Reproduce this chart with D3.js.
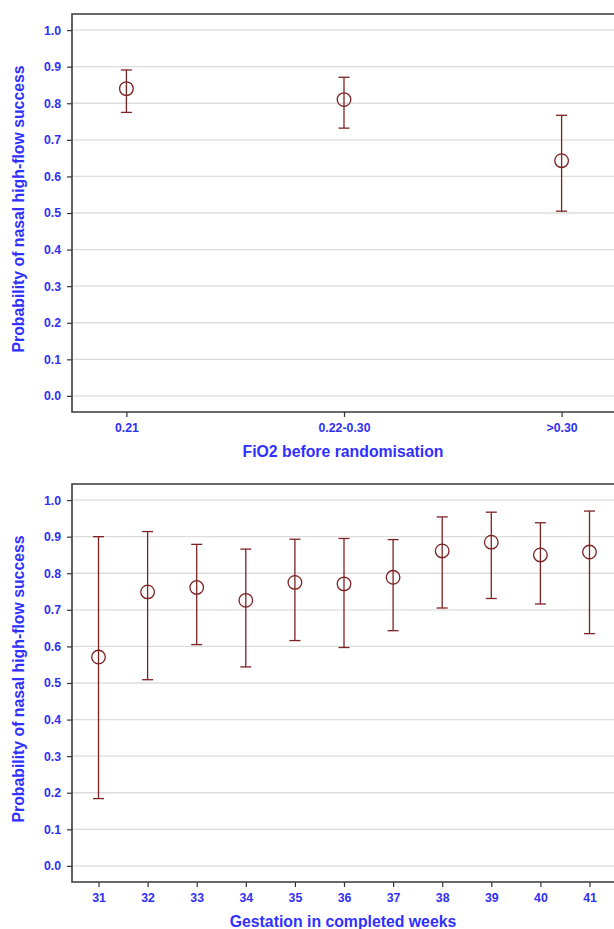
<!DOCTYPE html>
<html>
<head>
<meta charset="utf-8">
<script src="https://cdn.jsdelivr.net/npm/d3@7"></script>
<style>
  body { margin: 0; background: #fff; }
  svg { display: block; font-family: "Liberation Sans", Arial, sans-serif; }
  .tickText { fill: #2f2ff5; font-weight: bold; font-size: 12.3px; }
  .axisTitle { fill: #3030ff; font-weight: bold; font-size: 15.8px; }
</style>
</head>
<body>
<div id="chart"></div>
<script>
// Data

// panel 1: FiO2 before randomisation
var fioCats = ["0.21", "0.22-0.30", ">0.30"];
var fioProb = [0.840, 0.810, 0.643];
var fioLow = [0.775, 0.732, 0.505];
var fioHigh = [0.891, 0.871, 0.767];

// panel 2: gestation in completed weeks
var weekCats = ["31", "32", "33", "34", "35", "36", "37", "38", "39", "40", "41"];
var weekProb = [0.571, 0.749, 0.761, 0.726, 0.775, 0.771, 0.789, 0.861, 0.885, 0.850, 0.858];
var weekLow = [0.184, 0.509, 0.605, 0.544, 0.616, 0.597, 0.643, 0.705, 0.731, 0.716, 0.635];
var weekHigh = [0.900, 0.914, 0.879, 0.866, 0.893, 0.895, 0.892, 0.954, 0.967, 0.938, 0.970];

var yTicks = [0, 0.1, 0.2, 0.3, 0.4, 0.5, 0.6, 0.7, 0.8, 0.9, 1.0];
var yTitle = "Probability  of nasal high-flow success";

var svgWidth = 614;
var svgHeight = 929;

var svg = d3.select("#chart")
  .append("svg")
  .attr("width", svgWidth)
  .attr("height", svgHeight);

var barColor = "#7d2222";

function drawPanel(top, cats, prob, low, high, xPad, xTitle) {
  var left = 72, right = 616, height = 398;

  var rows = cats.map(function(c, i) {
    return { cat: c, p: prob[i], lo: low[i], hi: high[i] };
  });

  var x = d3.scalePoint()
    .domain(cats)
    .range([left, right])
    .padding(xPad);

  var y = d3.scaleLinear()
    .domain([-0.044, 1.044])
    .range([top + height, top]);

  var g = svg.append("g");

  // gridlines
  g.selectAll(".grid")
    .data(yTicks)
    .enter()
    .append("line")
    .attr("x1", left)
    .attr("x2", right)
    .attr("y1", d => y(d))
    .attr("y2", d => y(d))
    .attr("stroke", "#dcdcdc")
    .attr("stroke-width", 1.3);

  // y axis
  var leftAxis = d3.axisLeft(y)
    .tickValues(yTicks)
    .tickFormat(d3.format(".1f"))
    .tickSize(5)
    .tickPadding(6);

  var yAxisG = g.append("g")
    .attr("transform", `translate(${left}, 0)`)
    .call(leftAxis);
  yAxisG.select(".domain").remove();
  yAxisG.selectAll("line").attr("stroke", "#333").attr("stroke-width", 1.2);
  yAxisG.selectAll("text").attr("class", "tickText").attr("font-size", null).attr("font-family", null);

  // x axis
  var bottomAxis = d3.axisBottom(x)
    .tickSize(5)
    .tickPadding(6);

  var xAxisG = g.append("g")
    .attr("transform", `translate(0, ${top + height})`)
    .call(bottomAxis);
  xAxisG.select(".domain").remove();
  xAxisG.selectAll("line").attr("stroke", "#333").attr("stroke-width", 1.2);
  xAxisG.selectAll("text").attr("class", "tickText").attr("font-size", null).attr("font-family", null);

  // frame (top, left, bottom)
  g.append("path")
    .attr("d", `M${right},${top}H${left}V${top + height}H${right}`)
    .attr("fill", "none")
    .attr("stroke", "#3a3a3a")
    .attr("stroke-width", 1.6);

  // error bars
  var bars = g.selectAll(".bar").data(rows).enter().append("g");

  bars.append("line")
    .attr("x1", d => x(d.cat))
    .attr("x2", d => x(d.cat))
    .attr("y1", d => y(d.lo))
    .attr("y2", d => y(d.hi))
    .attr("stroke", barColor)
    .attr("stroke-width", 1.3);

  bars.append("line")
    .attr("x1", d => x(d.cat) - 5.5)
    .attr("x2", d => x(d.cat) + 5.5)
    .attr("y1", d => y(d.hi))
    .attr("y2", d => y(d.hi))
    .attr("stroke", barColor)
    .attr("stroke-width", 1.3);

  bars.append("line")
    .attr("x1", d => x(d.cat) - 5.5)
    .attr("x2", d => x(d.cat) + 5.5)
    .attr("y1", d => y(d.lo))
    .attr("y2", d => y(d.lo))
    .attr("stroke", barColor)
    .attr("stroke-width", 1.3);

  bars.append("circle")
    .attr("cx", d => x(d.cat))
    .attr("cy", d => y(d.p))
    .attr("r", 6.8)
    .attr("fill", "none")
    .attr("stroke", barColor)
    .attr("stroke-width", 1.3);

  // axis titles
  g.append("text")
    .attr("class", "axisTitle")
    .attr("text-anchor", "middle")
    .attr("x", 343)
    .attr("y", top + height + 44.5)
    .text(xTitle);

  g.append("text")
    .attr("class", "axisTitle")
    .attr("text-anchor", "middle")
    .attr("transform", `translate(24, ${top + height / 2 - 4}) rotate(-90)`)
    .text(yTitle);
}

drawPanel(14, fioCats, fioProb, fioLow, fioHigh, 0.25, "FiO2 before randomisation");
drawPanel(484, weekCats, weekProb, weekLow, weekHigh, 0.54, "Gestation in completed weeks");
</script>
</body>
</html>
